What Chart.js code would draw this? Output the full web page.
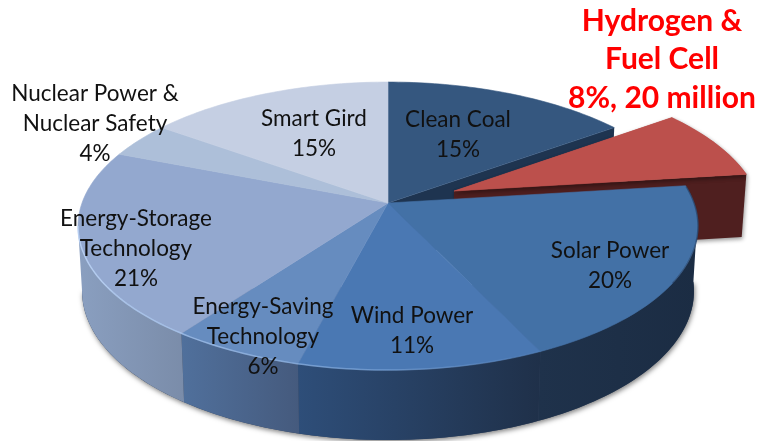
<!DOCTYPE html>
<html>
<head>
<meta charset="utf-8">
<title>New energy funding</title>
<script src="https://cdn.jsdelivr.net/npm/chart.js@4"></script>
<style>
    html, body { margin: 0; padding: 0; background: #fff; overflow: hidden; }
    canvas { display: block; }
</style>
</head>
<body>
<canvas id="pie" width="757" height="441"></canvas>
<script>
// Chart data, clockwise from 12 o'clock
const categories = [
    ['Clean Coal'],
    ['Hydrogen &', 'Fuel Cell'],
    ['Solar Power'],
    ['Wind Power'],
    ['Energy-Saving', 'Technology'],
    ['Energy-Storage', 'Technology'],
    ['Nuclear Power &', 'Nuclear Safety'],
    ['Smart Gird']
];
const shares = [15, 8, 20, 11, 6, 21, 4, 15];
const valueSuffix = ['', ', 20 million', '', '', '', '', '', ''];
const explodedBy = [0, 46.4, 0, 0, 0, 0, 0, 0];

// Styles
const faceColors = ['#35577f', '#bc504c', '#4371a6', '#4a78b3', '#668cbf', '#93a8cf', '#adbfd9', '#c5cfe3'];
const wallColors = [
    ['#1e3450', '#1e3450'],
    ['#4f1f1f', '#4f1f1f'],
    ['#1f324b', '#1b2c43'],
    ['#2e4e79', '#1f3049'],
    ['#50709c', '#455a7d'],
    ['#8a9fc0', '#7a8ca9'],
    ['#8a9fc0', '#8a9fc0'],
    ['#8a9fc0', '#8a9fc0']
];

// Where each label block is centred: x, y of first line
const labelAnchors = [
    [458, 120], [662, 21], [610, 251], [412, 316],
    [263, 307], [136, 219], [95, 94], [314, 119]
];

// Perspective of the tilted disc
const apexX = 388, apexY = 203;
const radiusX = 306, radiusY = 140.3, tilt = -0.16;

function project(u, v, lowered) {
    const w = 1 + tilt * v;
    let x = apexX + radiusX * u / w;
    let y = apexY + radiusY * v / w;
    if (lowered) {
        x = apexX + (x - apexX) * 0.987;
        y += 64 + 6 * v;
    }
    return [x, y];
}

function rimPoints(from, to, du, dv, lowered) {
    const pts = [];
    const steps = Math.max(2, Math.ceil((to - from) / 0.02));
    for (let i = 0; i <= steps; i++) {
        const t = from + (to - from) * i / steps;
        pts.push(project(Math.cos(t) + du, Math.sin(t) + dv, lowered));
    }
    return pts;
}

function fillPoly(ctx, pts, fill) {
    ctx.beginPath();
    pts.forEach((p, i) => i ? ctx.lineTo(p[0], p[1]) : ctx.moveTo(p[0], p[1]));
    ctx.closePath();
    ctx.fillStyle = fill;
    ctx.fill();
}

function strokeLine(ctx, pts, style, width) {
    ctx.beginPath();
    pts.forEach((p, i) => i ? ctx.lineTo(p[0], p[1]) : ctx.moveTo(p[0], p[1]));
    ctx.strokeStyle = style;
    ctx.lineWidth = width;
    ctx.stroke();
}

function sideGradient(ctx, pts, colors) {
    const xs = pts.map(p => p[0]);
    const g = ctx.createLinearGradient(Math.min(...xs), 0, Math.max(...xs) + 1, 0);
    g.addColorStop(0, colors[0]);
    g.addColorStop(1, colors[1]);
    return g;
}

function sliceShift(arc) {
    const ratio = arc.options.offset / arc.outerRadius;
    const mid = (arc.startAngle + arc.endAngle) / 2;
    return [Math.cos(mid) * ratio, Math.sin(mid) * ratio];
}

function drawFace(ctx, arc) {
    const [du, dv] = sliceShift(arc);
    const pts = [project(du, dv, false)].concat(rimPoints(arc.startAngle, arc.endAngle, du, dv, false));
    fillPoly(ctx, pts, arc.options.backgroundColor);
    ctx.strokeStyle = arc.options.backgroundColor;
    ctx.lineWidth = 0.6;
    ctx.stroke();
}

// Only the front of the rim shows a wall
const wallFrom = 0.1, wallTo = Math.PI - 0.16;

function drawWall(ctx, arc, i) {
    const from = Math.max(arc.startAngle, wallFrom);
    const to = Math.min(arc.endAngle, wallTo);
    if (to <= from) return;
    const top = rimPoints(from, to, 0, 0, false);
    const low = rimPoints(from, to, 0, 0, true).reverse();
    const pts = top.concat(low);
    fillPoly(ctx, pts, sideGradient(ctx, pts, wallColors[i]));
}

function drawCutFace(ctx, angle, du, dv, fill) {
    const u = Math.cos(angle) + du, v = Math.sin(angle) + dv;
    fillPoly(ctx, [
        project(du, dv, false), project(u, v, false),
        project(u, v, true), project(du, dv, true)
    ], fill);
}

const pie3d = {
    id: 'pie3d',
    beforeDatasetsDraw(chart) {
        const ctx = chart.ctx;
        const arcs = chart.getDatasetMeta(0).data;
        const lifted = arcs[1];
        const [du, dv] = sliceShift(lifted);

        ctx.save();
        // inside of the gap left by the lifted slice
        drawCutFace(ctx, arcs[0].endAngle, 0, 0, wallColors[0][0]);

        // lifted slice
        ctx.shadowColor = 'rgba(0,0,0,0.4)';
        ctx.shadowBlur = 4;
        ctx.shadowOffsetX = 1;
        ctx.shadowOffsetY = 2;
        drawCutFace(ctx, lifted.endAngle, du, dv, wallColors[1][0]);
        drawFace(ctx, lifted);
        const face = [project(du, dv, false)].concat(rimPoints(lifted.startAngle, lifted.endAngle, du, dv, false));
        ctx.shadowColor = 'transparent';
        fillPoly(ctx, face, lifted.options.backgroundColor);

        // body: soft shadow, walls, faces
        ctx.shadowColor = 'rgba(0,0,0,0.5)';
        ctx.shadowBlur = 5;
        ctx.shadowOffsetX = 1;
        ctx.shadowOffsetY = 2;
        fillPoly(ctx, rimPoints(wallFrom, wallTo, 0, 0, true), '#33445f');
        ctx.shadowColor = 'transparent';
        ctx.shadowBlur = 0;
        ctx.shadowOffsetX = 0;
        ctx.shadowOffsetY = 0;

        arcs.forEach((arc, i) => { if (i !== 1) drawWall(ctx, arc, i); });
        arcs.forEach((arc, i) => { if (i !== 1) drawFace(ctx, arc); });

        // light bevel on the front edge, darker on the right
        const bevel = ctx.createLinearGradient(80, 0, 560, 0);
        bevel.addColorStop(0, 'rgba(190,215,250,0.75)');
        bevel.addColorStop(0.6, 'rgba(150,190,240,0.5)');
        bevel.addColorStop(1, 'rgba(150,190,240,0)');
        strokeLine(ctx, rimPoints(0.55, wallTo, 0, 0, false), bevel, 1.5);
        strokeLine(ctx, rimPoints(-0.12, 0.55, 0, 0, false), 'rgba(35,60,95,0.55)', 1.5);
        ctx.restore();
        return false; // faces are done here, skip the flat arcs
    },
    afterDraw(chart) {
        const ctx = chart.ctx;
        ctx.save();
        ctx.textAlign = 'center';
        ctx.textBaseline = 'middle';
        categories.forEach((lines, i) => {
            const big = i === 1;
            const text = lines.concat(shares[i] + '%' + valueSuffix[i]);
            ctx.font = big ? 'bold 30px Lato' : '22.5px Lato';
            ctx.fillStyle = big ? '#ff0000' : '#111111';
            const step = big ? 38.5 : 30;
            text.forEach((line, k) => {
                ctx.fillText(line, labelAnchors[i][0], labelAnchors[i][1] + k * step);
            });
        });
        ctx.restore();
    }
};

new Chart(document.getElementById('pie').getContext('2d'), {
    type: 'pie',
    data: {
        labels: categories.map(c => c.join(' ')),
        datasets: [{
            data: shares,
            backgroundColor: faceColors,
            borderWidth: 0,
            offset: explodedBy
        }]
    },
    options: {
        responsive: false,
        animation: false,
        events: [],
        plugins: {
            legend: { display: false },
            tooltip: { enabled: false }
        }
    },
    plugins: [pie3d]
});
</script>
</body>
</html>
